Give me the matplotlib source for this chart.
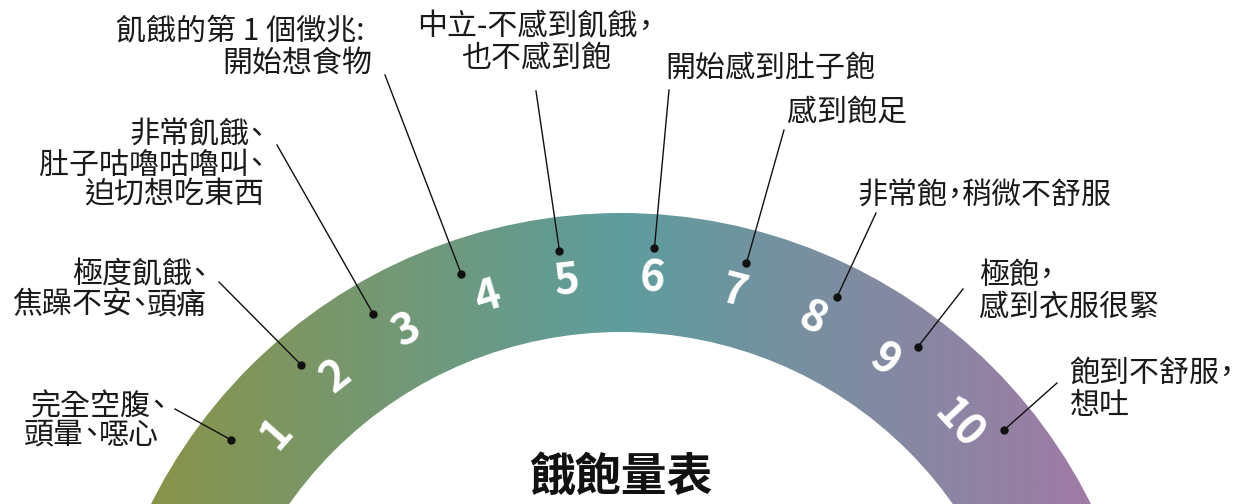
import numpy as np
import matplotlib
matplotlib.use('Agg')
import matplotlib.pyplot as plt
from matplotlib.patches import Wedge
from matplotlib.colors import LinearSegmentedColormap

# ---------------- data ----------------
levels = ['1', '2', '3', '4', '5', '6', '7', '8', '9', '10']
labels = [
    ['完全空腹、', '頭暈、噁心'],
    ['極度飢餓、', '焦躁不安、頭痛'],
    ['非常飢餓、', '肚子咕嚕咕嚕叫、', '迫切想吃東西'],
    ['飢餓的第 1 個徵兆:', '開始想食物'],
    ['中立-不感到飢餓，', '也不感到飽'],
    ['開始感到肚子飽'],
    ['感到飽足'],
    ['非常飽，稍微不舒服'],
    ['極飽，', '感到衣服很緊'],
    ['飽到不舒服，', '想吐'],
]
title = '餓飽量表'
grad_colors = ['#89934a', '#5e9d9d', '#a07ba6']

# ---------------- layout ----------------
plt.rcParams['font.family'] = ['Noto Sans CJK TC', 'DejaVu Sans']
W, H = 1236, 504
cx, cy = 621, 738
r_out, r_in = 525, 406
r_num, r_dot = 461, 491
num_angles = [138.5, 128.2, 117.7, 106.9, 96.7, 86.1, 75.7, 65.4, 55.1, 42.9]
dot_angles = [142.6, 130.6, 120.3, 109.0, 97.2, 86.1, 75.2, 63.9, 52.8, 38.8]
line_ends = [(175, 409), (219, 282), (277, 145), (385, 75), (536, 91),
             (669, 90), (784, 130), (876, 213), (963, 289), (1057, 383)]
label_x = [[31, 24], [72, 12], [129, 39, 84], [116, 222], [417, 461],
           [665], [787], [857], [979, 979], [1069, 1069]]
label_y = [[407, 435], [275, 305], [135, 165, 195], [32, 63], [27, 58],
           [68], [112], [195], [275, 307], [373, 405]]
FS = 21.6
PUNCT = '、，'

fig = plt.figure(figsize=(W / 100, H / 100), dpi=100)
ax = fig.add_axes([0, 0, 1, 1])

cmap = LinearSegmentedColormap.from_list('g', grad_colors)
grad = np.linspace(0, 1, 512).reshape(1, -1)
im = ax.imshow(grad, extent=[151, 1091, 504, 200], cmap=cmap, aspect='auto',
               interpolation='bilinear', zorder=1)
wedge = Wedge((cx, cy), r_out, 180, 360, width=r_out - r_in,
              facecolor='none', edgecolor='none')
ax.add_patch(wedge)
im.set_clip_path(wedge)

ax.set_xlim(0, W)
ax.set_ylim(H, 0)
ax.axis('off')

renderer = fig.canvas.get_renderer()
em = FS * 100 / 72.0


def draw_line(x, y, text):
    # CJK punctuation set with half-width (proportional) advance
    cursor = x
    run = ''
    pieces = []
    for ch in text:
        if ch in PUNCT:
            if run:
                pieces.append(run)
                run = ''
            pieces.append(ch)
        else:
            run += ch
    if run:
        pieces.append(run)
    for p in pieces:
        if p in PUNCT:
            ax.text(cursor + em * 0.25, y, p, fontsize=FS, color='#1a1a1a',
                    ha='center', va='center', zorder=5)
            cursor += em * 0.5
        else:
            t = ax.text(cursor, y, p, fontsize=FS, color='#1a1a1a',
                        ha='left', va='center', zorder=5)
            cursor += t.get_window_extent(renderer).width


for i, lv in enumerate(levels):
    a = np.deg2rad(num_angles[i])
    x = cx + r_num * np.cos(a)
    y = cy - r_num * np.sin(a)
    ax.text(x, y, lv, color='white', fontsize=31, fontweight='bold',
            ha='center', va='center', rotation=num_angles[i] - 90,
            rotation_mode='anchor', zorder=3)
    d = np.deg2rad(dot_angles[i])
    dx = cx + r_dot * np.cos(d)
    dy = cy - r_dot * np.sin(d)
    ex, ey = line_ends[i]
    ax.plot([dx, ex], [dy, ey], color='#111111', lw=1.0, zorder=4)
    ax.plot(dx, dy, 'o', color='#111111', ms=5, zorder=5)
    for t, lx, ly in zip(labels[i], label_x[i], label_y[i]):
        draw_line(lx, ly, t)

ax.text(cx, 478, title, fontsize=33, fontweight='bold', color='#111111',
        ha='center', va='center', zorder=5)

fig.savefig('out.png', dpi=100)
